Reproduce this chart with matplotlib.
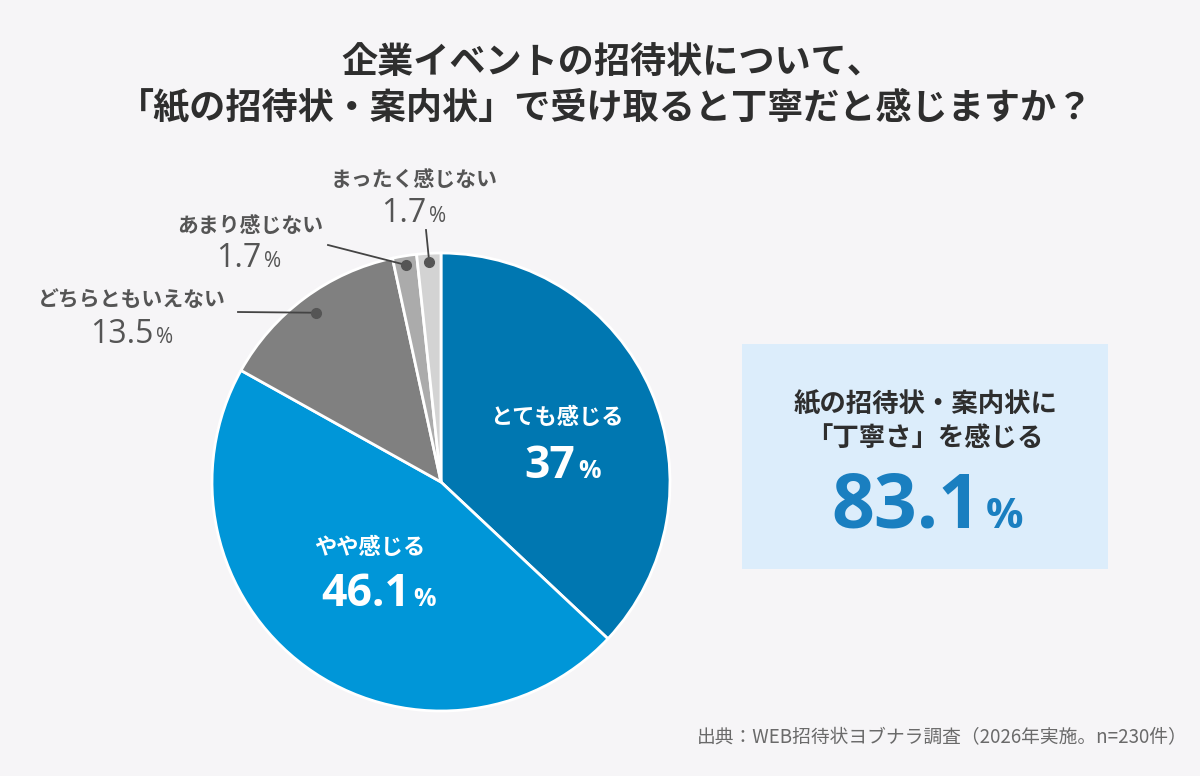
import numpy as np
import matplotlib
matplotlib.use("Agg")
import matplotlib.pyplot as plt
from matplotlib.patches import Rectangle

plt.rcParams['font.family'] = ['Noto Sans CJK JP', 'DejaVu Sans']
NUM_FONT = ['Open Sans', 'DejaVu Sans']

labels = ["とても感じる", "やや感じる", "どちらともいえない", "あまり感じない", "まったく感じない"]
values = [37.0, 46.1, 13.5, 1.7, 1.7]
value_text = ["37", "46.1", "13.5", "1.7", "1.7"]
colors = ["#0077b1", "#0096d8", "#808080", "#ababab", "#d3d3d3"]
total_label = "83.1"

BG = "#f6f5f7"
W, H = 1200, 776
cx, cy, R = 441, 482, 229

fig = plt.figure(figsize=(12, 7.76), dpi=100)
fig.patch.set_facecolor(BG)

# pie axes, placed in pixel terms
pax = fig.add_axes([(cx - R) / W, (H - cy - R) / H, 2 * R / W, 2 * R / H])
wedges, _ = pax.pie(values, colors=colors, startangle=90, counterclock=False,
                    radius=1.0, wedgeprops=dict(edgecolor="white", linewidth=2))
pax.set_xlim(-1, 1)
pax.set_ylim(-1, 1)
pax.set_aspect("auto")
pax.axis("off")

# overlay in pixel coords
ax = fig.add_axes([0, 0, 1, 1], zorder=5)
ax.set_xlim(0, W)
ax.set_ylim(H, 0)
ax.axis("off")
ax.patch.set_alpha(0)

dark = "#2e2e2e"
grey = "#555555"

ax.text(612, 62, "企業イベントの招待状について、", ha="center", va="center",
        fontsize=26, fontweight="bold", color=dark)
ax.text(606, 108, "「紙の招待状・案内状」で受け取ると丁寧だと感じますか？", ha="center", va="center",
        fontsize=26, fontweight="bold", color=dark)


def pct(x, y, num, size, psize, color, weight="bold", gap=3):
    ax.text(x, y, num, ha="right", va="baseline", fontsize=size, color=color,
            fontweight=weight, family=NUM_FONT)
    ax.text(x + gap, y, "%", ha="left", va="baseline", fontsize=psize, color=color,
            fontweight=weight, family=NUM_FONT)


# inside labels
ax.text(557, 418, labels[0], ha="center", va="center", fontsize=16, fontweight="bold", color="white")
pct(575, 478, value_text[0], 32, 18, "white")
ax.text(370, 548, labels[1], ha="center", va="center", fontsize=16, fontweight="bold", color="white")
pct(410, 606, value_text[1], 32, 18, "white")

# outside labels
ax.text(132, 300, labels[2], ha="center", va="center", fontsize=15, fontweight="bold", color=grey)
pct(153, 343, value_text[2], 23, 15, grey, weight="normal")
ax.text(250, 225, labels[3], ha="center", va="center", fontsize=15, fontweight="bold", color=grey)
pct(261, 267, value_text[3], 23, 15, grey, weight="normal")
ax.text(414, 180, labels[4], ha="center", va="center", fontsize=15, fontweight="bold", color=grey)
pct(426, 222, value_text[4], 23, 15, grey, weight="normal")

# leader lines to slices
starts = {2: (238, 312), 3: (328, 245), 4: (426, 230)}
radii = {2: 0.92, 3: 0.96, 4: 0.96}
for i, (sx, sy) in starts.items():
    w = wedges[i]
    th = np.deg2rad((w.theta1 + w.theta2) / 2)
    px = cx + radii[i] * R * np.cos(th)
    py = cy - radii[i] * R * np.sin(th)
    ax.plot([sx, px], [sy, py], color="#444444", lw=1.3, zorder=6)
    ax.plot(px, py, "o", color="#555555", ms=7, zorder=7)

# summary box
ax.add_patch(Rectangle((742, 344), 366, 225, facecolor="#dcedfb", edgecolor="none", zorder=1))
ax.text(925, 405, "紙の招待状・案内状に", ha="center", va="center", fontsize=19,
        fontweight="bold", color=dark, zorder=2)
ax.text(925, 438, "「丁寧さ」を感じる", ha="center", va="center", fontsize=19,
        fontweight="bold", color=dark, zorder=2)
ax.text(981, 528, total_label, ha="right", va="baseline", fontsize=54, fontweight="bold",
        color="#1a7fc0", zorder=2, family=NUM_FONT)
ax.text(986, 528, "%", ha="left", va="baseline", fontsize=30, fontweight="bold",
        color="#1a7fc0", zorder=2, family=NUM_FONT)

ax.text(1188, 738, "出典：WEB招待状ヨブナラ調査（2026年実施。n=230件）", ha="right", va="center",
        fontsize=13.5, color="#6a6a6a")

fig.savefig("out.png", dpi=100, facecolor=BG)
